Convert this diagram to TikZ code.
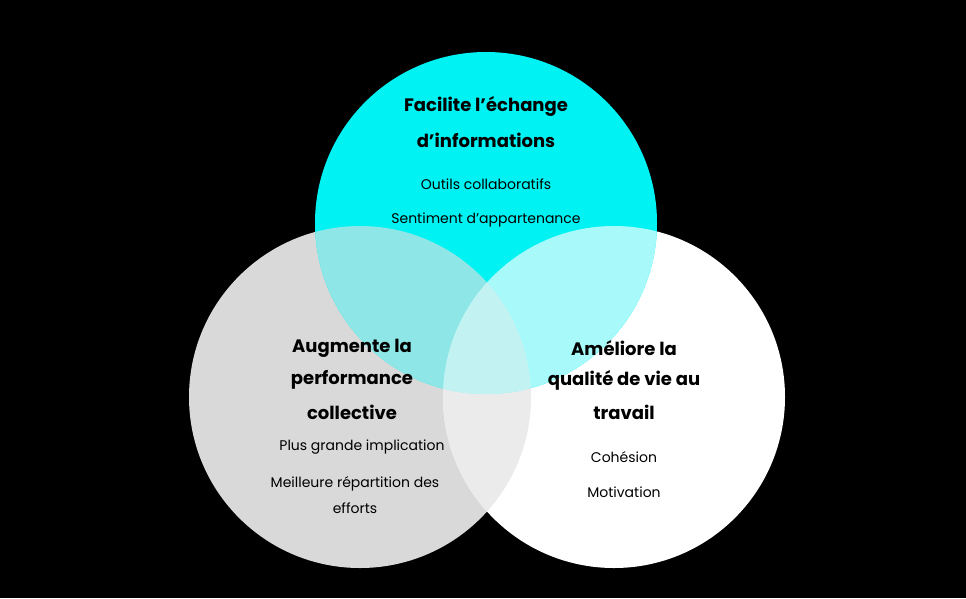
\documentclass[tikz,border=0pt]{standalone}
\usepackage{fontspec}
\setmainfont{Poppins}
\definecolor{cy}{HTML}{00F2F2}
\definecolor{gr}{HTML}{D9D9D9}
\definecolor{tl}{HTML}{8EE6E6}
\definecolor{lc}{HTML}{A8FAFA}
\definecolor{lg}{HTML}{EBEBEB}
\definecolor{mid}{HTML}{C2F2F2}
\begin{document}
\begin{tikzpicture}[x=1pt,y=-1pt,
 ttl/.style={font=\fontsize{18}{18}\selectfont\bfseries,align=center},
 txt/.style={font=\fontsize{14}{14}\selectfont}]
\fill[black] (0,0) rectangle (966,598);
\useasboundingbox (0,0) rectangle (966,598);
\coordinate (T) at (486,223);
\coordinate (L) at (360,397);
\coordinate (R) at (614,397);
\fill[gr] (L) circle (171);
\fill[white] (R) circle (171);
\fill[cy] (T) circle (171);
\begin{scope}\clip (L) circle (171); \fill[lg] (R) circle (171); \fill[tl] (T) circle (171);\end{scope}
\begin{scope}\clip (R) circle (171); \fill[lc] (T) circle (171);\end{scope}
\begin{scope}\clip (L) circle (171); \clip (R) circle (171); \fill[mid] (T) circle (171);\end{scope}
\node[ttl] (t1) at (486,106) {Facilite l’échange};
\node[ttl] (t2) at (486,140) {d’informations};
\node[txt] (t3) at (486,184) {Outils collaboratifs};
\node[txt] (t4) at (486,220) {Sentiment d’appartenance};
\node[ttl] (l1) at (352,348) {Augmente la};
\node[ttl] (l2) at (352,380) {performance};
\node[ttl] (l3) at (352,412) {collective};
\node[txt] (l4) at (362,447) {Plus grande implication};
\node[txt] (l5) at (355,484) {Meilleure répartition des};
\node[txt] (l6) at (355,508) {efforts};
\node[ttl] (r1) at (624,348) {Améliore la};
\node[ttl] (r2) at (624,380) {qualité de vie au};
\node[ttl] (r3) at (624,412) {travail};
\node[txt] (r4) at (624,457) {Cohésion};
\node[txt] (r5) at (624,492) {Motivation};
\end{tikzpicture}
\end{document}
